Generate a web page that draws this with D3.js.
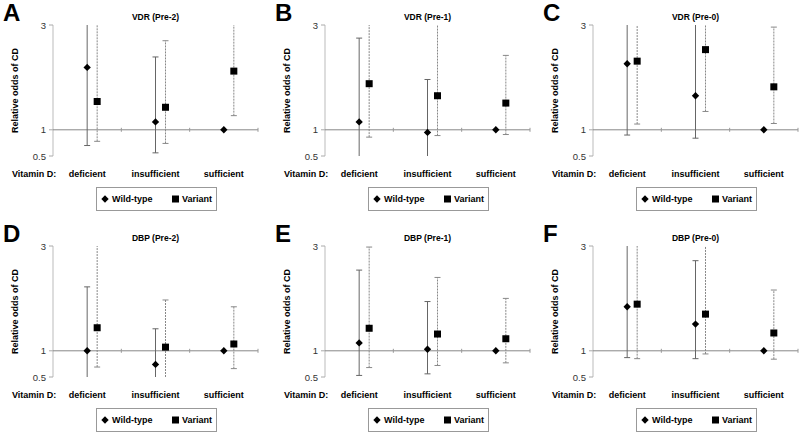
<!DOCTYPE html>
<html>
<head>
<meta charset="utf-8">
<script src="https://cdn.jsdelivr.net/npm/d3@7"></script>
<style>
  body { margin: 0; background: #fff; }
  svg { display: block; font-family: Arial, "Liberation Sans", sans-serif; }
  .bold { font-weight: bold; }
</style>
</head>
<body>
<svg id="chart" width="800" height="434"></svg>
<script>
// Data (odds ratios; values above 3 are cut off at the top)
var categories = ["deficient", "insufficient", "sufficient"];
var panelLetters = ["A", "B", "C", "D", "E", "F"];
var panelTitles = ["VDR (Pre-2)", "VDR (Pre-1)", "VDR (Pre-0)", "DBP (Pre-2)", "DBP (Pre-1)", "DBP (Pre-0)"];
var yTicks = [0.5, 1, 3];

var wildOR = [[2.19, 1.15, 1], [1.15, 0.95, 1], [2.26, 1.65, 1], [1, 0.74, 1], [1.15, 1.03, 1], [1.84, 1.51, 1]];
var wildLo = [[0.70, 0.56, null], [0.45, 0.45, null], [0.90, 0.84, null], [0.45, 0.45, null], [0.53, 0.56, null], [0.87, 0.85, null]];
var wildHi = [[3.3, 2.39, null], [2.75, 1.96, null], [3.4, 3.3, null], [2.22, 1.42, null], [2.54, 1.94, null], [3.3, 2.72, null]];

var varOR = [[1.54, 1.43, 2.12], [1.88, 1.65, 1.51], [2.31, 2.53, 1.82], [1.44, 1.07, 1.13], [1.43, 1.32, 1.23], [1.89, 1.70, 1.34]];
var varLo = [[0.78, 0.74, 1.27], [0.86, 0.89, 0.91], [1.11, 1.35, 1.12], [0.69, 0.45, 0.66], [0.68, 0.72, 0.77], [0.85, 0.94, 0.84]];
var varHi = [[3.4, 2.70, 3.3], [3.3, 3.3, 2.42], [3.5, 3.3, 2.96], [3.2, 1.97, 1.84], [2.98, 2.40, 2.00], [3.4, 3.3, 2.16]];

// Layout
var colX = [53, 325, 593];
var rowTop = [25, 246];
var plotW = 205, plotH = 131;
var variantOffset = 10;

var svg = d3.select("#chart");

var xScale = d3.scaleBand().domain(categories).range([0, plotW]);
var yScale = d3.scaleLinear().domain([0.5, 3]).range([plotH, 0]).clamp(true);

var inDomain = function(v) { return v >= 0.5 && v <= 3; };

var drawBar = function(g, x, lo, hi, color, dash) {
  if (lo == null || hi == null) return;
  g.append("line")
   .attr("x1", x).attr("x2", x)
   .attr("y1", yScale(lo)).attr("y2", yScale(hi))
   .style("stroke", color)
   .style("stroke-width", 1)
   .style("stroke-dasharray", dash);
  [lo, hi].forEach(function(v) {
    if (!inDomain(v)) return;
    g.append("line")
     .attr("x1", x - 3).attr("x2", x + 3)
     .attr("y1", yScale(v)).attr("y2", yScale(v))
     .style("stroke", color)
     .style("stroke-width", 1);
  });
};

// wild-type marker: square turned 45 degrees
var addDiamond = function(g, x, y) {
  g.append("rect")
   .attr("x", -2.6).attr("y", -2.6)
   .attr("width", 5.2).attr("height", 5.2)
   .attr("transform", "translate(" + x + "," + y + ") rotate(45)")
   .style("fill", "#000");
};

panelTitles.forEach(function(title, p) {
  var x0 = colX[p % 3], y0 = rowTop[Math.floor(p / 3)];
  var g = svg.append("g").attr("transform", "translate(" + x0 + "," + y0 + ")");

  // panel letter + title
  g.append("text").attr("class", "bold")
   .attr("x", -50).attr("y", -4)
   .style("font-size", "24px")
   .text(panelLetters[p]);
  g.append("text").attr("class", "bold")
   .attr("x", plotW / 2).attr("y", -5)
   .attr("text-anchor", "middle")
   .style("font-size", "8.5px")
   .text(title);

  // y axis
  g.append("line")
   .attr("x1", 0).attr("x2", 0)
   .attr("y1", yScale(3)).attr("y2", yScale(0.5))
   .style("stroke", "#bbb");
  g.selectAll(".ytick").data(yTicks).enter().append("line")
   .attr("x1", -4).attr("x2", 0)
   .attr("y1", function(d) { return yScale(d); })
   .attr("y2", function(d) { return yScale(d); })
   .style("stroke", "#aaa");
  g.selectAll(".ylab").data(yTicks).enter().append("text")
   .attr("x", -7)
   .attr("y", function(d) { return yScale(d) + 3.5; })
   .attr("text-anchor", "end")
   .style("font-size", "9.5px")
   .style("fill", "#333")
   .text(function(d) { return d; });
  g.append("text").attr("class", "bold")
   .attr("transform", "translate(-35," + (plotH / 2) + ") rotate(-90)")
   .attr("text-anchor", "middle")
   .style("font-size", "9px")
   .text("Relative odds of CD");

  // x axis at odds = 1
  g.append("line")
   .attr("x1", 0).attr("x2", plotW)
   .attr("y1", yScale(1)).attr("y2", yScale(1))
   .style("stroke", "#888");
  g.selectAll(".xtick").data(categories).enter().append("line")
   .attr("x1", function(d) { return xScale(d) + xScale.bandwidth(); })
   .attr("x2", function(d) { return xScale(d) + xScale.bandwidth(); })
   .attr("y1", yScale(1) - 2).attr("y2", yScale(1) + 2)
   .style("stroke", "#999");

  // category labels
  g.append("text").attr("class", "bold")
   .attr("x", -41).attr("y", plotH + 21)
   .style("font-size", "9px")
   .text("Vitamin D:");
  g.selectAll(".cat").data(categories).enter().append("text")
   .attr("class", "bold")
   .attr("x", function(d) { return xScale(d) + xScale.bandwidth() / 2; })
   .attr("y", plotH + 21)
   .attr("text-anchor", "middle")
   .style("font-size", "9px")
   .text(function(d) { return d; });

  // error bars
  categories.forEach(function(c, i) {
    var cx = xScale(c) + xScale.bandwidth() / 2;
    drawBar(g, cx, wildLo[p][i], wildHi[p][i], "#666", null);
    drawBar(g, cx + variantOffset, varLo[p][i], varHi[p][i], "#888", "2,1");
  });

  // points
  categories.forEach(function(c, i) {
    var cx = xScale(c) + xScale.bandwidth() / 2;
    addDiamond(g, cx, yScale(wildOR[p][i]));
    g.append("rect")
     .attr("x", cx + variantOffset - 3.5)
     .attr("y", yScale(varOR[p][i]) - 3.5)
     .attr("width", 7).attr("height", 7)
     .style("fill", "#000");
  });

  // legend
  var leg = g.append("g").attr("transform", "translate(43," + (plotH + 31) + ")");
  leg.append("rect")
     .attr("x", 0.5).attr("y", 0.5)
     .attr("width", 120).attr("height", 23)
     .style("fill", "#fff")
     .style("stroke", "#999");
  addDiamond(leg, 9, 12);
  leg.append("text").attr("class", "bold")
     .attr("x", 16).attr("y", 15)
     .style("font-size", "9px")
     .text("Wild-type");
  leg.append("rect")
     .attr("x", 76).attr("y", 8.5)
     .attr("width", 7).attr("height", 7)
     .style("fill", "#000");
  leg.append("text").attr("class", "bold")
     .attr("x", 86).attr("y", 15)
     .style("font-size", "9px")
     .text("Variant");
});
</script>
</body>
</html>
